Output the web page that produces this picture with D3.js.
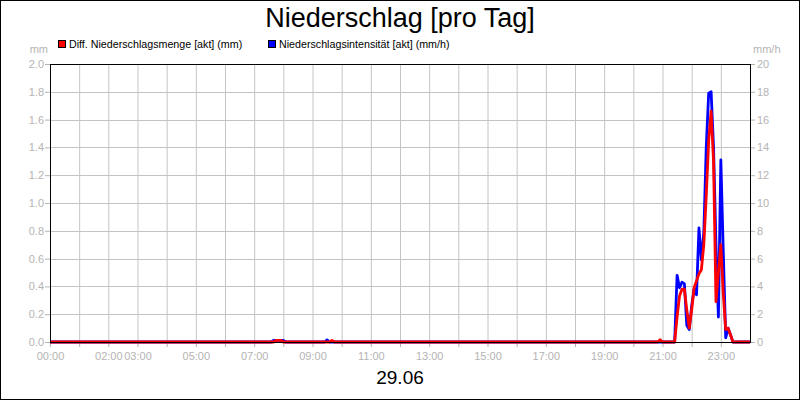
<!DOCTYPE html>
<html>
<head>
<meta charset="utf-8">
<script src="https://cdn.jsdelivr.net/npm/d3@7"></script>
<style>
  body { margin: 0; background: #fff; }
  svg { display: block; font-family: 'Liberation Sans', Arial, sans-serif; }
</style>
</head>
<body>
<div id="chart"></div>
<script>
// Achsen-Beschriftungen
const hourLabels = ['00:00', '02:00', '03:00', '05:00', '07:00', '09:00', '11:00', '13:00', '15:00', '17:00', '19:00', '21:00', '23:00'];
const mmTicks = [0, 0.2, 0.4, 0.6, 0.8, 1.0, 1.2, 1.4, 1.6, 1.8, 2.0];
const mmhTicks = [0, 2, 4, 6, 8, 10, 12, 14, 16, 18, 20];

// Diff. Niederschlagsmenge [akt] (mm)
const mengeTimes = ['00:00', '07:40', '07:45', '07:50', '07:55', '08:00', '09:35', '09:40', '09:45',
  '20:50', '20:55', '21:00', '21:25', '21:30', '21:35', '21:40', '21:45', '21:50', '21:55',
  '22:00', '22:05', '22:10', '22:15', '22:20', '22:25', '22:30', '22:35', '22:40', '22:45',
  '22:50', '22:55', '23:00', '23:05', '23:10', '23:15', '23:20', '23:25', '24:00'];
const mengeValues = [0, 0, 0.012, 0.012, 0.012, 0, 0, 0.012, 0,
  0, 0.017, 0, 0, 0.18, 0.33, 0.38, 0.38, 0.23, 0.10,
  0.23, 0.39, 0.44, 0.49, 0.52, 0.70, 1.05, 1.45, 1.66, 1.30,
  0.29, 0.50, 0.70, 0.35, 0.09, 0.10, 0.05, 0, 0];

// Niederschlagsintensität [akt] (mm/h)
const intensTimes = ['00:00', '07:35', '07:40', '07:45', '07:50', '07:55', '08:00', '08:05', '09:25', '09:30', '09:35',
  '21:25', '21:30', '21:35', '21:40', '21:45', '21:50', '21:55',
  '22:00', '22:05', '22:10', '22:15', '22:20', '22:25', '22:30', '22:35', '22:40', '22:45',
  '22:50', '22:55', '23:00', '23:05', '23:10', '23:15', '23:20', '23:25', '24:00'];
const intensValues = [0, 0, 0.12, 0.12, 0.12, 0.12, 0.12, 0, 0, 0.15, 0,
  0, 4.8, 3.9, 4.3, 4.2, 1.2, 0.9,
  2.6, 3.8, 3.4, 8.2, 5.9, 7.9, 14, 17.9, 18, 14,
  7, 1.8, 13.1, 6.5, 0.3, 1.0, 0.5, 0, 0];

const width = 800;
const height = 400;
const margin = { top: 64, right: 50, bottom: 58, left: 50 };
const gray = '#b4b4b4';
const gridColor = '#c4c4c4';

const toMin = s => {
  const [h, m] = s.split(':').map(Number);
  return h * 60 + m;
};

const svg = d3.select('#chart').append('svg')
  .attr('width', width)
  .attr('height', height);

svg.append('rect')
  .attr('x', 0.5).attr('y', 0.5)
  .attr('width', width - 1).attr('height', height - 1)
  .attr('fill', '#fff')
  .attr('stroke', '#000');

const x = d3.scaleLinear()
  .domain([0, 1440])
  .range([margin.left, width - margin.right]);

const yL = d3.scaleLinear()
  .domain([0, 2])
  .range([height - margin.bottom, margin.top]);

const yR = d3.scaleLinear()
  .domain([0, 20])
  .range([height - margin.bottom, margin.top]);

// Gitter
const hours = d3.range(0, 25).map(h => h * 60);
svg.append('g')
  .selectAll('line')
  .data(hours.slice(1, -1))
  .join('line')
  .attr('x1', d => x(d) + 0.5).attr('x2', d => x(d) + 0.5)
  .attr('y1', yL(2)).attr('y2', yL(0))
  .attr('stroke', gridColor);

svg.append('g')
  .selectAll('line')
  .data(mmTicks.slice(1, -1))
  .join('line')
  .attr('x1', x(0)).attr('x2', x(1440))
  .attr('y1', d => Math.round(yL(d)) + 0.5).attr('y2', d => Math.round(yL(d)) + 0.5)
  .attr('stroke', gridColor);

// Achsen
const fmtLabel = d => {
  const h = String(Math.floor(d / 60)).padStart(2, '0');
  const s = h + ':00';
  return hourLabels.includes(s) ? s : '';
};

const xAxis = svg.append('g')
  .attr('transform', `translate(0,${yL(0)})`)
  .call(d3.axisBottom(x).tickValues(hours.slice(0, -1)).tickSize(5).tickSizeOuter(0).tickFormat(fmtLabel));

const leftAxis = svg.append('g')
  .attr('transform', `translate(${x(0)},0)`)
  .call(d3.axisLeft(yL).tickValues(mmTicks).tickSize(5).tickSizeOuter(0).tickFormat(d3.format('.1f')));

const rightAxis = svg.append('g')
  .attr('transform', `translate(${x(1440)},0)`)
  .call(d3.axisRight(yR).tickValues(mmhTicks).tickSize(5).tickSizeOuter(0));

[xAxis, leftAxis, rightAxis].forEach(a => {
  a.select('.domain').remove();
  a.selectAll('line').attr('stroke', gray);
  a.selectAll('text')
    .attr('fill', gray)
    .style('font-size', '11px')
    .style('font-family', "'Liberation Sans', Arial, sans-serif");
});
xAxis.selectAll('text').attr('dy', '0.9em');
leftAxis.selectAll('text').attr('x', -6);
rightAxis.selectAll('text').attr('x', 7);

// Linien
const line = (yScale) => d3.line()
  .x(d => x(d[0]))
  .y(d => yScale(d[1]));

const intensData = intensTimes.map((t, i) => [toMin(t), intensValues[i]]);
const mengeData = mengeTimes.map((t, i) => [toMin(t), mengeValues[i]]);

svg.append('path')
  .datum(intensData)
  .attr('fill', 'none')
  .attr('stroke', '#0000ff')
  .attr('stroke-width', 2.8)
  .attr('stroke-linejoin', 'round')
  .attr('d', line(yR));

svg.append('path')
  .datum(mengeData)
  .attr('fill', 'none')
  .attr('stroke', '#ff0000')
  .attr('stroke-width', 2.8)
  .attr('stroke-linejoin', 'round')
  .attr('d', line(yL));

// Rahmen des Plotbereichs
svg.append('rect')
  .attr('x', x(0) + 0.5).attr('y', yL(2) + 0.5)
  .attr('width', x(1440) - x(0)).attr('height', yL(0) - yL(2))
  .attr('fill', 'none')
  .attr('stroke', '#000');

// Titel und Beschriftungen
svg.append('text')
  .attr('x', width / 2).attr('y', 27)
  .attr('text-anchor', 'middle')
  .style('font-size', '27px')
  .text('Niederschlag [pro Tag]');

svg.append('text')
  .attr('x', 48).attr('y', 53)
  .attr('text-anchor', 'end')
  .attr('fill', gray)
  .style('font-size', '11px')
  .text('mm');

svg.append('text')
  .attr('x', 753).attr('y', 53)
  .attr('fill', gray)
  .style('font-size', '11px')
  .text('mm/h');

svg.append('text')
  .attr('x', width / 2).attr('y', 384)
  .attr('text-anchor', 'middle')
  .style('font-size', '19px')
  .text('29.06');

// Legende
const legend = [
  { label: 'Diff. Niederschlagsmenge [akt] (mm)', color: '#ff0000', x: 58 },
  { label: 'Niederschlagsintensität [akt] (mm/h)', color: '#0000ff', x: 268 }
];

const lg = svg.append('g').selectAll('g')
  .data(legend)
  .join('g')
  .attr('transform', d => `translate(${d.x},0)`);

lg.append('rect')
  .attr('x', 0.5).attr('y', 40.5)
  .attr('width', 7).attr('height', 7)
  .attr('fill', d => d.color)
  .attr('stroke', '#000');

lg.append('text')
  .attr('x', 11).attr('y', 48)
  .style('font-size', '10.7px')
  .text(d => d.label);
</script>
</body>
</html>
